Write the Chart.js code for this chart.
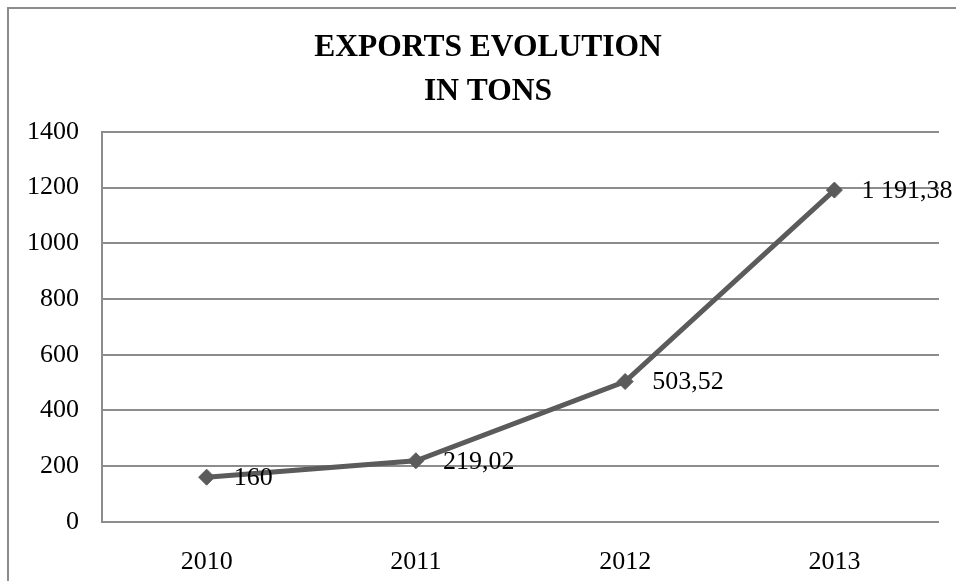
<!DOCTYPE html>
<html lang="en">
<head>
  <meta charset="UTF-8" />
  <title>Exports Evolution</title>
  <script src="https://cdn.jsdelivr.net/npm/chart.js"></script>
  <style>
    body {
      margin: 0;
      padding: 0;
      background: #fff;
    }
    canvas {
      display: block;
    }
  </style>
</head>
<body>
  <canvas id="graficoExportaciones" width="956" height="581"></canvas>

  <script>
    const anios = ["2010", "2011", "2012", "2013"];
    const toneladas = [160, 219.02, 503.52, 1191.38];
    const etiquetasValores = ["160", "219,02", "503,52", "1 191,38"];
    const ticksEje = [0, 200, 400, 600, 800, 1000, 1200, 1400];

    const gris = "#8c8c8c";
    const grisLinea = "#5b5b5b";
    const fuente = "'Liberation Serif', 'Times New Roman', serif";

    // marco exterior y fondo blanco
    const marco = {
      id: 'marco',
      beforeDraw(chart) {
        const ctx = chart.ctx;
        ctx.save();
        ctx.fillStyle = '#fff';
        ctx.fillRect(0, 0, chart.width, chart.height);
        ctx.strokeStyle = gris;
        ctx.lineWidth = 2;
        ctx.strokeRect(8, 8, chart.width + 50, chart.height + 50);
        ctx.restore();
      }
    };

    // etiquetas de datos a la derecha de cada punto
    const etiquetas = {
      id: 'etiquetas',
      afterDatasetsDraw(chart) {
        const ctx = chart.ctx;
        const puntos = chart.getDatasetMeta(0).data;
        ctx.save();
        ctx.font = '26px ' + fuente;
        ctx.fillStyle = '#000';
        ctx.textAlign = 'left';
        ctx.textBaseline = 'middle';
        puntos.forEach((p, i) => {
          ctx.fillText(etiquetasValores[i], p.x + 27, p.y + 1);
        });
        ctx.restore();
      }
    };

    const ctx = document.getElementById("graficoExportaciones").getContext("2d");

    new Chart(ctx, {
      type: "line",
      data: {
        labels: anios,
        datasets: [{
          data: toneladas,
          borderColor: grisLinea,
          backgroundColor: grisLinea,
          borderWidth: 5,
          tension: 0,
          pointStyle: 'rectRot',
          pointRadius: 8,
          pointBorderWidth: 1,
          pointBackgroundColor: grisLinea,
          pointBorderColor: grisLinea
        }]
      },
      options: {
        responsive: false,
        animation: false,
        layout: {
          padding: { left: 20, right: 0, top: 0, bottom: 0 }
        },
        plugins: {
          legend: { display: false },
          tooltip: { enabled: false },
          title: {
            display: true,
            text: ["EXPORTS EVOLUTION", "IN TONS"],
            color: "#000",
            font: { family: fuente, size: 31.5, weight: 'bold', lineHeight: '44px' },
            padding: { top: 26, bottom: 18 }
          }
        },
        scales: {
          x: {
            offset: true,
            grid: { display: false },
            border: { display: false },
            ticks: {
              color: "#000",
              padding: 17,
              font: { family: fuente, size: 26 }
            },
            afterFit(scale) { scale.height = 59.3; }
          },
          y: {
            min: 0,
            max: 1400,
            afterBuildTicks(scale) {
              scale.ticks = ticksEje.map(v => ({ value: v }));
            },
            grid: { color: gris, lineWidth: 2, drawTicks: false },
            border: { display: true, color: gris, width: 2 },
            ticks: {
              color: "#000",
              padding: 23,
              font: { family: fuente, size: 26 },
              callback: v => String(v)
            },
            afterFit(scale) { scale.width = 82; }
          },
          // eje vacío a la derecha, sólo para dejar el margen del gráfico
          margen: {
            position: 'right',
            min: 0,
            max: 1400,
            grid: { display: false },
            border: { display: false },
            ticks: { display: false },
            afterFit(scale) { scale.width = 17; }
          }
        }
      },
      plugins: [marco, etiquetas]
    });
  </script>
</body>
</html>
